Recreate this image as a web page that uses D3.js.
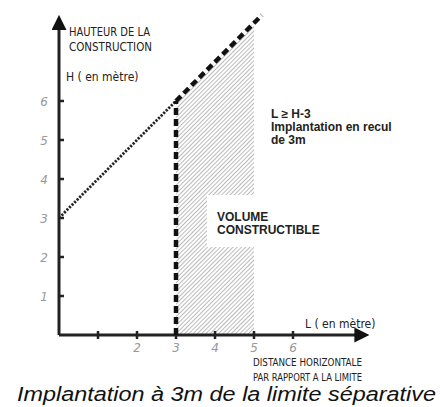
<!DOCTYPE html>
<html lang="fr">
<head>
    <meta charset="UTF-8">
    <title>Implantation</title>
    <style>
        body { margin: 0; background: #fff; }
        .hand { font-family: "DejaVu Sans Condensed", "DejaVu Sans", sans-serif; fill: #222; }
        .tick-lbl { font-family: "DejaVu Sans", sans-serif; fill: #999; font-size: 12px; }
        .note { font-family: "Liberation Sans", Arial, sans-serif; font-weight: bold; fill: #222; font-size: 12px; }
    </style>
</head>
<body>
<svg></svg>
<script src="https://d3js.org/d3.v7.min.js"></script>
<script>
    var width = 440;
    var height = 407;

    var xTicks = [1, 2, 3, 4, 5, 6];
    var xTickLabels = ["", "2", "3", "4", "5", "6"];
    var yTicks = [1, 2, 3, 4, 5, 6];
    var yTickLabels = ["1", "2", "3", "4", "5", "6"];
    var gabaritL = [0, 3];          // droite L >= H-3 : H = L + 3
    var gabaritH = [3, 6];
    var gabaritSuiteL = [3, 5.2];
    var gabaritSuiteH = [6, 8.2];
    var reculL = [3, 3];
    var reculH = [0, 6];
    var volumeL = [3, 3, 5, 5];
    var volumeH = [0, 6, 8, 0];

    var x0 = 59, y0 = 335, unit = 39;
    var xScale = d3.scaleLinear().domain([0, 7.8]).range([x0, x0 + 7.8 * unit]);
    var yScale = d3.scaleLinear().domain([0, 7.9]).range([y0, y0 - 7.9 * unit]);

    var svg = d3.select("svg")
        .attr("width", width)
        .attr("height", height);

    var defs = svg.append("defs");
    defs.append("pattern")
        .attr("id", "hachures")
        .attr("patternUnits", "userSpaceOnUse")
        .attr("width", 3).attr("height", 3)
        .attr("patternTransform", "rotate(45)")
        .append("line")
        .attr("x1", 0).attr("y1", 0).attr("x2", 0).attr("y2", 3)
        .attr("stroke", "#777").attr("stroke-width", 1);
    defs.append("marker")
        .attr("id", "fleche")
        .attr("viewBox", "0 0 10 10")
        .attr("refX", 2).attr("refY", 5)
        .attr("markerWidth", 5).attr("markerHeight", 5)
        .attr("orient", "auto")
        .append("path")
        .attr("d", "M0,0 L10,5 L0,10 z")
        .attr("fill", "#111");

    // volume constructible hachuré
    var line = d3.line()
        .x(function (d) { return xScale(d[0]); })
        .y(function (d) { return yScale(d[1]); });
    svg.append("path")
        .attr("d", line(d3.zip(volumeL, volumeH)) + "Z")
        .attr("fill", "url(#hachures)");

    // zone blanche sous le texte
    svg.append("rect")
        .attr("x", 207).attr("y", 195)
        .attr("width", 60).attr("height", 52)
        .attr("fill", "#fff");

    // axes
    var xAxis = d3.axisBottom(xScale).tickValues(xTicks).tickSize(0).tickFormat("");
    var yAxis = d3.axisLeft(yScale).tickValues(yTicks).tickSize(0).tickFormat("");
    svg.append("g").attr("transform", "translate(0," + y0 + ")").call(xAxis)
        .select(".domain").remove();
    svg.append("g").attr("transform", "translate(" + x0 + ",0)").call(yAxis)
        .select(".domain").remove();

    svg.append("line")
        .attr("x1", x0).attr("y1", y0).attr("x2", xScale(7.65)).attr("y2", y0)
        .attr("stroke", "#222").attr("stroke-width", 3)
        .attr("marker-end", "url(#fleche)");
    svg.append("line")
        .attr("x1", x0).attr("y1", y0).attr("x2", x0).attr("y2", yScale(7.9))
        .attr("stroke", "#222").attr("stroke-width", 3)
        .attr("marker-end", "url(#fleche)");

    svg.selectAll(".xt").data(xTicks).enter().append("line")
        .attr("x1", function (d) { return xScale(d); })
        .attr("x2", function (d) { return xScale(d); })
        .attr("y1", y0 - 4).attr("y2", y0 + 4)
        .attr("stroke", "#222").attr("stroke-width", 2.5);
    svg.selectAll(".yt").data(yTicks).enter().append("line")
        .attr("y1", function (d) { return yScale(d); })
        .attr("y2", function (d) { return yScale(d); })
        .attr("x1", x0 - 1).attr("x2", x0 + 5)
        .attr("stroke", "#222").attr("stroke-width", 2.5);

    svg.selectAll(".xl").data(xTicks).enter().append("text")
        .attr("class", "tick-lbl")
        .attr("x", function (d) { return xScale(d); })
        .attr("y", y0 + 17)
        .attr("text-anchor", "middle")
        .attr("font-style", "italic")
        .text(function (d, i) { return xTickLabels[i]; });
    svg.selectAll(".yl").data(yTicks).enter().append("text")
        .attr("class", "tick-lbl")
        .attr("x", x0 - 11)
        .attr("y", function (d) { return yScale(d) + 5; })
        .attr("text-anchor", "end")
        .attr("font-style", "italic")
        .text(function (d, i) { return yTickLabels[i]; });

    // gabarit
    svg.append("path")
        .attr("d", line(d3.zip(gabaritL, gabaritH)))
        .attr("fill", "none").attr("stroke", "#222")
        .attr("stroke-width", 2.8).attr("stroke-dasharray", "2.2,1.4");
    svg.append("path")
        .attr("d", line(d3.zip(gabaritSuiteL, gabaritSuiteH)))
        .attr("fill", "none").attr("stroke", "#111")
        .attr("stroke-width", 4.5).attr("stroke-dasharray", "7,4");
    svg.append("path")
        .attr("d", line(d3.zip(reculL, reculH)))
        .attr("fill", "none").attr("stroke", "#111")
        .attr("stroke-width", 4.5).attr("stroke-dasharray", "7,4");

    // textes
    var hand = svg.append("g").attr("class", "hand");
    hand.append("text").attr("x", 69).attr("y", 36).attr("font-size", 13)
        .attr("textLength", 81).attr("lengthAdjust", "spacingAndGlyphs").text("HAUTEUR DE LA");
    hand.append("text").attr("x", 69).attr("y", 51).attr("font-size", 13)
        .attr("textLength", 83).attr("lengthAdjust", "spacingAndGlyphs").text("CONSTRUCTION");
    hand.append("text").attr("x", 66).attr("y", 81).attr("font-size", 12).text("H ( en mètre)");
    hand.append("text").attr("x", 305).attr("y", 328).attr("font-size", 12).text("L ( en mètre)");
    hand.append("text").attr("x", 253).attr("y", 366).attr("font-size", 11)
        .attr("textLength", 109).attr("lengthAdjust", "spacingAndGlyphs").text("DISTANCE HORIZONTALE");
    hand.append("text").attr("x", 253).attr("y", 381).attr("font-size", 11)
        .attr("textLength", 109).attr("lengthAdjust", "spacingAndGlyphs").text("PAR RAPPORT A LA LIMITE");

    svg.append("text").attr("class", "note").attr("x", 271).attr("y", 118).text("L ≥ H-3");
    svg.append("text").attr("class", "note").attr("x", 271).attr("y", 131).text("Implantation en recul");
    svg.append("text").attr("class", "note").attr("x", 271).attr("y", 144).text("de 3m");
    svg.append("text").attr("class", "note").attr("x", 217).attr("y", 221).text("VOLUME");
    svg.append("text").attr("class", "note").attr("x", 217).attr("y", 234).text("CONSTRUCTIBLE");

    svg.append("text")
        .attr("x", 17).attr("y", 401)
        .attr("font-family", "Liberation Sans, Arial, sans-serif")
        .attr("font-style", "italic")
        .attr("font-size", 19.5)
        .attr("fill", "#111")
        .attr("textLength", 419)
        .attr("lengthAdjust", "spacingAndGlyphs")
        .text("Implantation à 3m de la limite séparative");
</script>
</body>
</html>
